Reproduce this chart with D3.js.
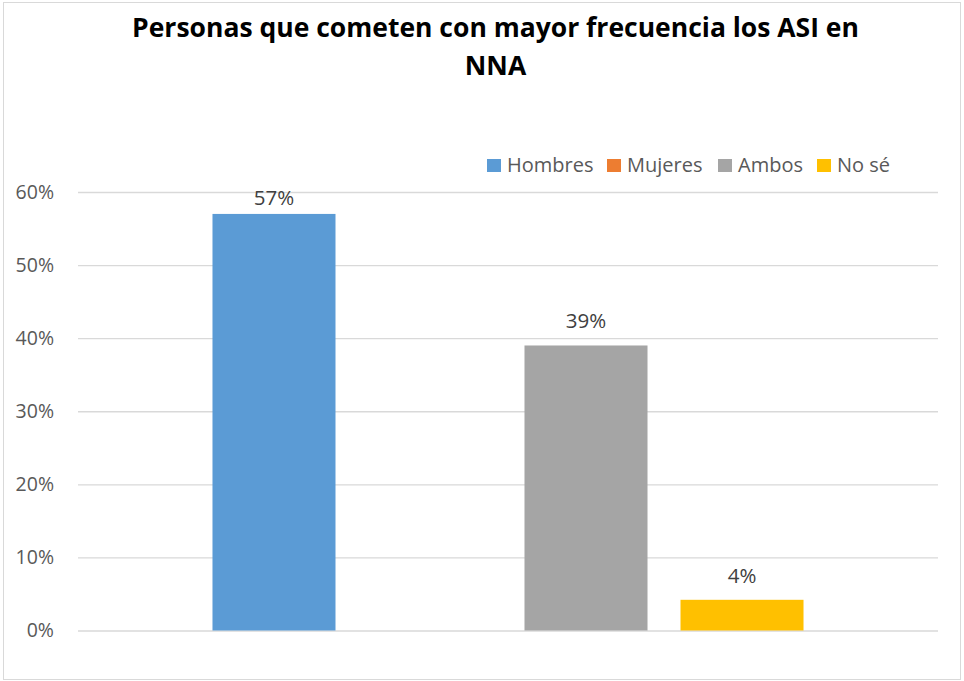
<!DOCTYPE html>
<html>
<head>
<meta charset="utf-8">
<script src="https://cdn.jsdelivr.net/npm/d3@7"></script>
<style>
  html, body { margin: 0; padding: 0; background: #fff; }
  svg { display: block; }
  text { font-family: "Open Sans", "Noto Sans", sans-serif; }
</style>
</head>
<body>
<svg id="chart" width="964" height="681"></svg>
<script>
const titleLines = ["Personas que cometen con mayor frecuencia los ASI en", "NNA"];
const categories = ["Personas"];
const seriesNames = ["Hombres", "Mujeres", "Ambos", "No sé"];
const seriesValues = [0.57, null, 0.39, 0.042];
const seriesColors = ["#5b9bd5", "#ed7d31", "#a5a5a5", "#ffc000"];
const yTicks = [0, 0.1, 0.2, 0.3, 0.4, 0.5, 0.6];

const W = 964, H = 681;
const plot = { left: 78, right: 938, top: 192, bottom: 630.5 };

const svg = d3.select("#chart");

// chart border
svg.append("rect")
  .attr("x", 3.5).attr("y", 2.5)
  .attr("width", W - 7).attr("height", H - 4)
  .attr("fill", "#fff").attr("stroke", "#d9d9d9").attr("stroke-width", 1);

// title
const title = svg.append("text")
  .attr("text-anchor", "middle")
  .attr("font-weight", "bold")
  .attr("font-size", 26.5)
  .attr("fill", "#000");
titleLines.forEach((t, i) => {
  title.append("tspan").attr("x", 495.5).attr("y", 37 + i * 38).text(t);
});

const y = d3.scaleLinear().domain([0, 0.6]).range([plot.bottom, plot.top]);

const x0 = d3.scaleBand().domain(categories).range([plot.left, plot.right])
  .paddingInner(0.159).paddingOuter(0.159);
const x1 = d3.scaleBand().domain(seriesNames).range([0, x0.bandwidth()])
  .paddingInner(0.2115).paddingOuter(0.1058);

// gridlines + tick labels
const yAxis = d3.axisLeft(y).tickValues(yTicks)
  .tickFormat(d3.format(".0%"))
  .tickSize(-(plot.right - plot.left)).tickPadding(24);
const gy = svg.append("g").attr("transform", `translate(${plot.left},0)`).call(yAxis);
gy.select(".domain").remove();
gy.selectAll(".tick line").attr("stroke", "#d9d9d9").attr("stroke-width", 1.3);
gy.selectAll(".tick text").attr("fill", "#595959").attr("font-size", 19.5)
  .attr("font-family", "'Open Sans', 'Noto Sans', sans-serif");

// bars
const data = seriesNames.map((s, i) => ({ cat: categories[0], name: s, value: seriesValues[i], color: seriesColors[i] }));
const g = svg.append("g");
g.selectAll("rect.bar").data(data.filter(d => d.value != null)).join("rect")
  .attr("class", "bar")
  .attr("x", d => x0(d.cat) + x1(d.name))
  .attr("width", x1.bandwidth())
  .attr("y", d => y(d.value))
  .attr("height", d => y(0) - y(d.value))
  .attr("fill", d => d.color);

// value labels
g.selectAll("text.lbl").data(data.filter(d => d.value != null)).join("text")
  .attr("class", "lbl")
  .attr("x", d => x0(d.cat) + x1(d.name) + x1.bandwidth() / 2)
  .attr("y", d => Math.max(y(d.value) - 17, y(0.6) + 13))
  .attr("text-anchor", "middle")
  .attr("font-size", 20.5)
  .attr("fill", "#404040")
  .text(d => d3.format(".0%")(d.value));

// legend
const legendX = [487, 607, 718, 817];
const lg = svg.append("g");
seriesNames.forEach((s, i) => {
  lg.append("rect").attr("x", legendX[i]).attr("y", 159).attr("width", 14).attr("height", 13)
    .attr("fill", seriesColors[i]);
  lg.append("text").attr("x", legendX[i] + 20).attr("y", 171.5)
    .attr("font-size", 20).attr("fill", "#595959").text(s);
});
</script>
</body>
</html>
